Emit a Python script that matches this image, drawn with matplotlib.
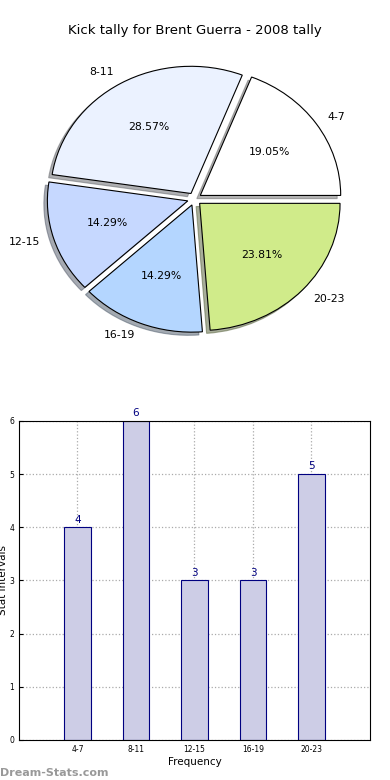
import matplotlib
matplotlib.use("Agg")
import matplotlib.pyplot as plt

categories = ["4-7", "8-11", "12-15", "16-19", "20-23"]
values = [4, 6, 3, 3, 5]
pie_colors = ["#FFFFFF", "#EBF2FF", "#C6D8FF", "#B4D6FF", "#D0EB8A"]
title = "Kick tally for Brent Guerra - 2008 tally"

fig = plt.figure(figsize=(3.9, 7.8), dpi=100)

# Pie chart
axp = fig.add_axes([0.0487, 0.541, 0.9, 0.4077])
wedges, texts, autotexts = axp.pie(
    values, labels=categories, colors=pie_colors, explode=[0.05] * len(values),
    autopct="%1.2f%%", shadow={"ox": -0.018, "oy": -0.018, "shade": 0.6}, startangle=0,
    wedgeprops=dict(edgecolor="black", linewidth=0.8),
    textprops=dict(fontsize=7.8),
)
axp.set_aspect("auto")
axp.set_xlim(-1.25, 1.25)
axp.set_ylim(-1.25, 1.25)
fig.text(0.5, 0.961, title, ha="center", va="center", fontsize=9.5)

# Bar chart
axb = fig.add_axes([0.0487, 0.0513, 0.9, 0.409])
xpos = list(range(1, len(values) + 1))
axb.bar(xpos, values, width=0.45, color="#CDCDE6", edgecolor="#000080", linewidth=0.8, zorder=2)
for x, v in zip(xpos, values):
    axb.text(x, v + 0.05, str(v), ha="center", va="bottom", color="#000080", fontsize=7.5)
axb.set_xlim(0, 6)
axb.set_ylim(0, 6)
axb.set_xticks(xpos)
axb.set_xticklabels(categories, fontsize=5.5)
axb.set_yticks(range(0, 7))
axb.tick_params(axis="y", labelsize=5.5)
axb.tick_params(direction="in", length=3)
axb.grid(True, linestyle=":", color="#AAAAAA", linewidth=0.9, zorder=0)
axb.set_axisbelow(True)
axb.set_xlabel("Frequency", fontsize=7.5, labelpad=2)
axb.set_ylabel("Stat Intervals", fontsize=7.5, labelpad=1)

fig.text(0.0, 0.002, "Dream-Stats.com", color="#999999", fontsize=8,
         fontweight="semibold", ha="left", va="bottom")

fig.savefig("out.png", dpi=100)
